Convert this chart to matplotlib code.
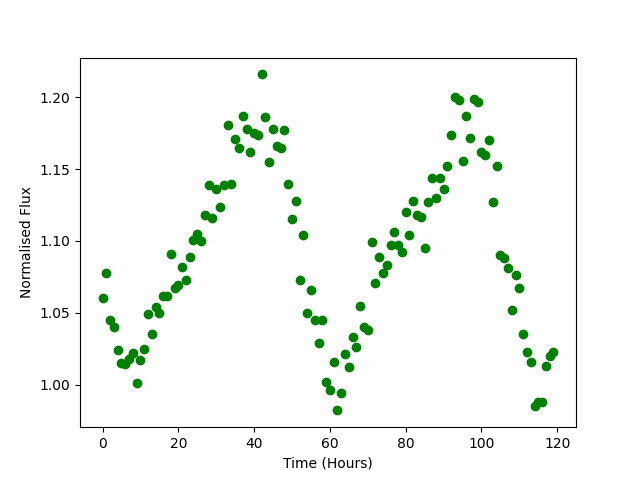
import matplotlib
matplotlib.use("Agg")
import matplotlib.pyplot as plt

# time in hours, one sample per hour
hours = list(range(120))

flux = [
    1.060, 1.078, 1.045, 1.040, 1.024, 1.015, 1.014, 1.018, 1.022, 1.001,
    1.017, 1.025, 1.049, 1.035, 1.054, 1.050, 1.062, 1.062, 1.091, 1.067,
    1.069, 1.082, 1.073, 1.089, 1.101, 1.105, 1.100, 1.118, 1.139, 1.116,
    1.136, 1.124, 1.139, 1.181, 1.140, 1.171, 1.165, 1.187, 1.178, 1.162,
    1.175, 1.174, 1.216, 1.186, 1.155, 1.178, 1.166, 1.165, 1.177, 1.140,
    1.115, 1.128, 1.073, 1.104, 1.050, 1.066, 1.045, 1.029, 1.045, 1.002,
    0.996, 1.016, 0.982, 0.994, 1.021, 1.012, 1.033, 1.026, 1.055, 1.040,
    1.038, 1.099, 1.071, 1.089, 1.078, 1.083, 1.097, 1.106, 1.097, 1.092,
    1.120, 1.104, 1.128, 1.118, 1.117, 1.095, 1.127, 1.144, 1.130, 1.144,
    1.136, 1.152, 1.174, 1.200, 1.198, 1.156, 1.187, 1.172, 1.199, 1.197,
    1.162, 1.160, 1.170, 1.127, 1.152, 1.090, 1.088, 1.081, 1.052, 1.076,
    1.067, 1.035, 1.023, 1.016, 0.985, 0.988, 0.988, 1.013, 1.020, 1.023,
]

fig, ax = plt.subplots(figsize=(6.4, 4.8), dpi=100)
ax.scatter(hours, flux, color="green")
ax.set_xlabel("Time (Hours)")
ax.set_ylabel("Normalised Flux")

fig.savefig("out.png")
